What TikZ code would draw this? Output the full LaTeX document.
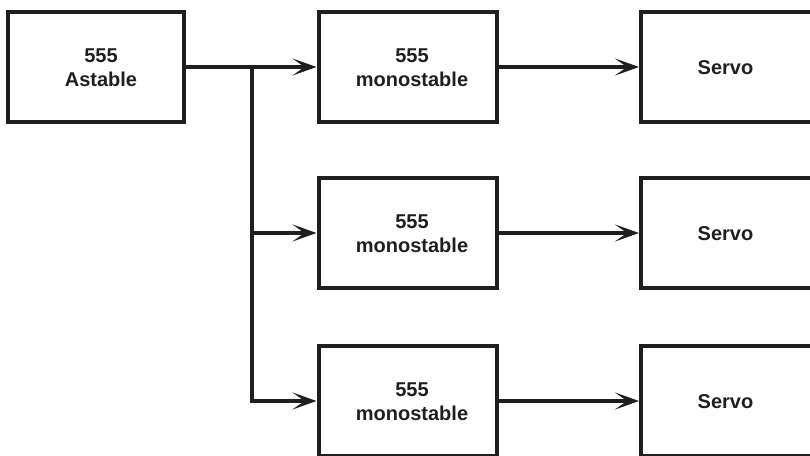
\documentclass[tikz,border=0pt]{standalone}
\usepackage{fontspec}
\setmainfont{Liberation Sans}
\usetikzlibrary{arrows.meta}
\begin{document}
\begin{tikzpicture}[x=1pt,y=-1pt,
  blk/.style={draw=black!88,line width=4pt,minimum height=110pt,inner sep=0pt},
  lbl/.style={font=\fontsize{20}{24}\selectfont\bfseries,align=center,text=black!88},
  conn/.style={draw=black!88,line width=3.8pt,-{Stealth[length=24pt,width=17pt,inset=12pt]}},
  wire/.style={draw=black!88,line width=3.8pt}]
\useasboundingbox (0,0) rectangle (810,455);
\clip (0,0) rectangle (810,455);
\node[blk,minimum width=175.5pt] (ast) at (96,67) {};
\node[lbl] (astT) at (101,68) {555\\Astable};
\node[blk,minimum width=178pt] (m1) at (407.5,67) {};
\node[lbl] (m1T) at (412,68) {555\\monostable};
\node[blk,minimum width=178pt] (m2) at (407.5,233) {};
\node[lbl] (m2T) at (412,234) {555\\monostable};
\node[blk,minimum width=178pt] (m3) at (407.5,401) {};
\node[lbl] (m3T) at (412,402) {555\\monostable};
\node[blk,minimum width=178pt] (s1) at (730,67) {};
\node[lbl] (s1T) at (725.5,68) {Servo};
\node[blk,minimum width=178pt] (s2) at (730,233) {};
\node[lbl] (s2T) at (725.5,234) {Servo};
\node[blk,minimum width=178pt] (s3) at (730,401) {};
\node[lbl] (s3T) at (725.5,402) {Servo};
\coordinate (j1) at (252,67);
\coordinate (j2) at (252,233);
\coordinate (j3) at (252,401);
\draw[wire] (ast.east) -- (j1);
\draw[wire] (252,65.1) -- (j3) -- ([xshift=1.9pt]j3);
\draw[conn] (j1) -- (m1.west);
\draw[conn] (j2) -- (m2.west);
\draw[conn] (j3) -- (m3.west);
\draw[conn] (m1.east) -- (s1.west);
\draw[conn] (m2.east) -- (s2.west);
\draw[conn] (m3.east) -- (s3.west);
\end{tikzpicture}
\end{document}
